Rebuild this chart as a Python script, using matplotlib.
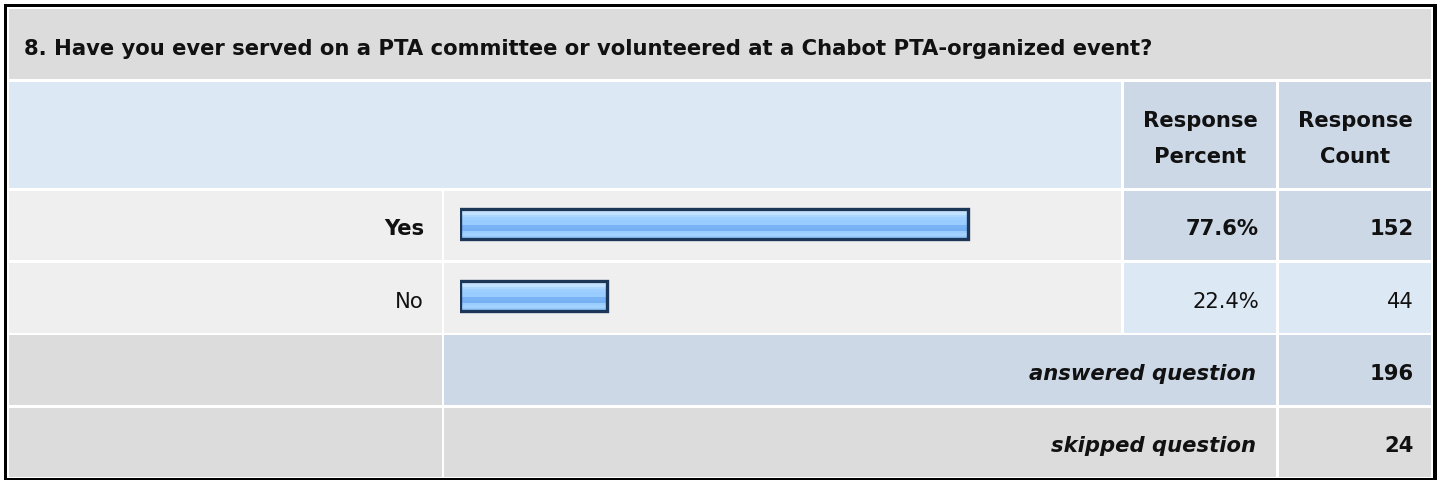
import matplotlib
matplotlib.use('Agg')
import matplotlib.pyplot as plt
from matplotlib.patches import Rectangle

question = '8. Have you ever served on a PTA committee or volunteered at a Chabot PTA-organized event?'
answers = ['Yes', 'No']
percents = [77.6, 22.4]
counts = [152, 44]
answered = 196
skipped = 24

# the screenshot's Arial is set with wide tracking; DejaVu Sans matches its widths best
plt.rcParams['font.family'] = ['DejaVu Sans']
FS = 15.2

W, H = 1440, 481
fig = plt.figure(figsize=(W / 100, H / 100), dpi=100)
ax = fig.add_axes([0, 0, 1, 1])
ax.set_xlim(0, W)
ax.set_ylim(H, 0)
ax.axis('off')

GREY = '#dcdcdc'
LIGHT = '#efefef'
BLUE = '#dde8f5'
BLUE2 = '#ccd8e6'
INK = '#111111'


def cell(x0, x1, y0, y1, color):
    ax.add_patch(Rectangle((x0, y0), x1 - x0, y1 - y0, facecolor=color, edgecolor='none'))


# outer frame
cell(4, 1437, 5, 481, 'black')
cell(7, 1433, 8, 478.5, 'white')

# column edges: label | bar | percent | count
cols = [(9, 442), (444, 1121), (1124, 1276), (1279, 1431)]
# row edges
r_title = (10, 80)
r_head = (83, 189)
r_rows = [(192, 261), (264, 334)]
r_ans = (336, 406)
r_skip = (409, 478)

# title
cell(9, 1431, *r_title, GREY)
ax.text(24, (r_title[0] + r_title[1]) / 2 + 10, question, fontsize=FS,
        fontweight='bold', ha='left', va='baseline', color=INK)

# header
cell(9, 1121, *r_head, BLUE)
hc = (r_head[0] + r_head[1]) / 2
for (x0, x1), word in zip(cols[2:], ['Percent', 'Count']):
    cell(x0, x1, *r_head, BLUE2)
    xc = (x0 + x1) / 2
    ax.text(xc, hc - 9, 'Response', fontsize=FS, fontweight='bold',
            ha='center', va='baseline', color=INK)
    ax.text(xc, hc + 27, word, fontsize=FS, fontweight='bold',
            ha='center', va='baseline', color=INK)

# answer rows
for i, (lab, pct, cnt) in enumerate(zip(answers, percents, counts)):
    y0, y1 = r_rows[i]
    yc = (y0 + y1) / 2
    bold = 'bold' if i == 0 else 'normal'
    side = BLUE2 if i == 0 else BLUE
    cell(*cols[0], y0, y1, LIGHT)
    cell(*cols[1], y0, y1, LIGHT)
    cell(*cols[2], y0, y1, side)
    cell(*cols[3], y0, y1, side)
    ax.text(424, yc + 9, lab, fontsize=FS, fontweight=bold, ha='right', va='baseline', color=INK)
    ax.text(1259, yc + 9, f'{pct:.1f}%', fontsize=FS, fontweight=bold, ha='right', va='baseline', color=INK)
    ax.text(1414, yc + 9, str(cnt), fontsize=FS, fontweight=bold, ha='right', va='baseline', color=INK)

# answered / skipped rows
cell(*cols[0], *r_ans, GREY)
cell(444, 1276, *r_ans, BLUE2)
cell(*cols[3], *r_ans, BLUE2)
cell(*cols[0], *r_skip, GREY)
cell(444, 1276, *r_skip, GREY)
cell(*cols[3], *r_skip, GREY)
for (y0, y1), lab, val in [(r_ans, 'answered question', answered), (r_skip, 'skipped question', skipped)]:
    yc = (y0 + y1) / 2
    ax.text(1256, yc + 9, lab, fontsize=FS, fontweight='bold', style='italic',
            ha='right', va='baseline', color=INK)
    ax.text(1414, yc + 9, str(val), fontsize=FS, fontweight='bold',
            ha='right', va='baseline', color=INK)

# bars: separate axes, 0..100 % mapped onto the bar column
bx0, bx1 = 460, 1115
by0, by1 = 189, 333
bax = fig.add_axes([bx0 / W, 1 - by1 / H, (bx1 - bx0) / W, (by1 - by0) / H])
bax.set_xlim(0, 100)
bax.set_ylim(1.5, -0.5)
bax.axis('off')

stripes = ['#d2eaff', '#c2e2ff', '#aad6ff', '#9ecfff', '#99ccff', '#99ccff',
           '#7ab4f4', '#76b1f3', '#99ccff', '#a3d2ff', '#92c8fc']
bh = 0.41
pos = list(range(len(answers)))
sh = bh / len(stripes)
for k, c in enumerate(stripes):
    bax.barh([p - bh / 2 + (k + 0.5) * sh for p in pos], percents, height=sh * 1.02,
             left=0, color=c, edgecolor='none')
bax.barh(pos, percents, height=bh, left=0, fill=False, edgecolor='#1c3657', linewidth=2.4)

fig.savefig('out.png', dpi=100)
